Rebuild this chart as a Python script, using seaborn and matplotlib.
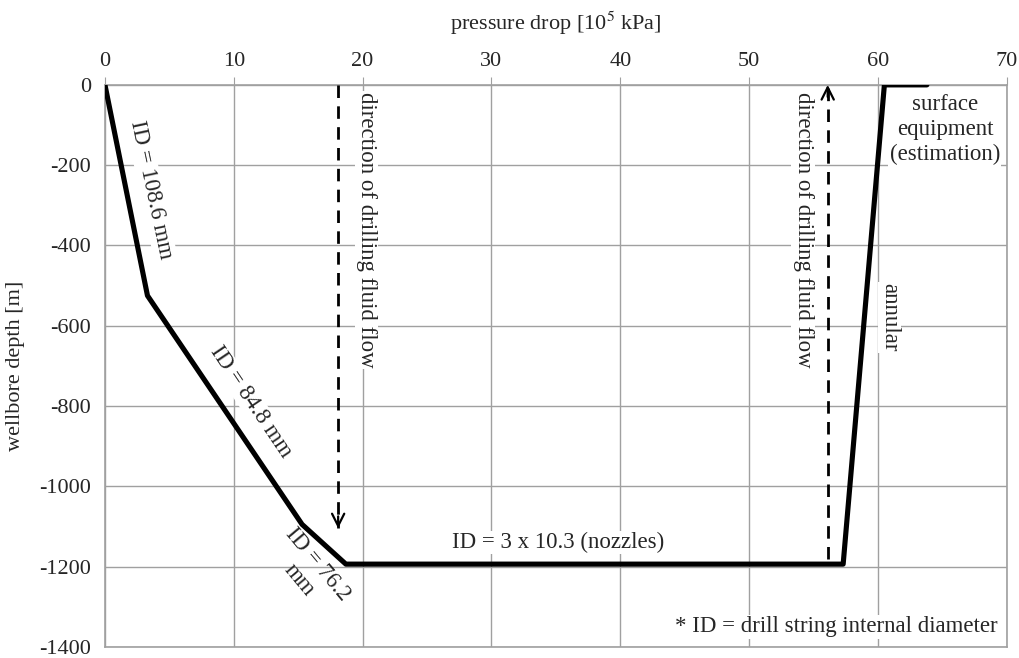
import numpy as np
import pandas as pd
import seaborn as sns
import matplotlib.pyplot as plt

sns.set_style("whitegrid")
plt.rcParams['font.family'] = ['Liberation Serif', 'DejaVu Serif']
plt.rcParams['axes.unicode_minus'] = False
plt.rcParams['mathtext.fontset'] = 'stix'

# data
pressure = [0, 3.3, 15.3, 18.7, 57.3, 60.5, 63.8]
depth = [0, -525, -1095, -1194, -1194, 0, 0]

flow_down_x = 18.1
flow_down_y = [0, -1105]
flow_up_x = 56.1
flow_up_y = [-1180, 0]

x_ticks = list(range(0, 71, 10))
y_ticks = list(range(0, -1401, -200))

GRID = "#a0a0a0"
FS = 16
AFS = 16.5

fig, ax = plt.subplots(figsize=(10.19, 6.58), dpi=100)
fig.subplots_adjust(left=0.103, right=0.988, top=0.871, bottom=0.017)

df = pd.DataFrame({"p": pressure, "d": depth})
sns.lineplot(data=df, x="p", y="d", sort=False, color="black", lw=3.7,
             ax=ax, zorder=4)

ax.set_xlim(0, 70)
ax.set_ylim(-1400, 0)
ax.set_xticks(x_ticks)
ax.set_yticks(y_ticks)
ax.xaxis.tick_top()
ax.xaxis.set_label_position("top")
ax.set_xlabel("pressure drop [10$^5$ kPa]", fontsize=FS, labelpad=16)
ax.set_ylabel("wellbore depth [m]", fontsize=FS, labelpad=10)
ax.tick_params(axis="both", labelsize=FS, length=6, color=GRID, pad=4)
ax.grid(True, color=GRID, lw=1)
for s in ax.spines.values():
    s.set_color(GRID)
    s.set_linewidth(1.2)


def flow_arrow(x, y0, y1):
    # dashed shaft, solid open head
    ax.plot([x, x], [y0, y1], color="black", lw=2, ls=(0, (4.5, 3)), zorder=5)
    step = 30 if y1 > y0 else -30
    ax.annotate("", xy=(x, y1), xytext=(x, y1 - step),
                arrowprops=dict(arrowstyle="->", lw=1.6, color="black",
                                mutation_scale=22, shrinkA=0, shrinkB=0),
                zorder=5)


flow_arrow(flow_down_x, flow_down_y[0], flow_down_y[1])
flow_arrow(flow_up_x, flow_up_y[0], flow_up_y[1])

wb = dict(facecolor="white", edgecolor="none", pad=1)
ax.text(20.3, -18, "direction of drilling fluid flow", rotation=270, ha="center",
        va="top", fontsize=AFS, bbox=wb, zorder=3)
ax.text(54.2, -18, "direction of drilling fluid flow", rotation=270, ha="center",
        va="top", fontsize=AFS, bbox=wb, zorder=3)
ax.text(60.9, -580, "annular", rotation=270, ha="center", va="center",
        fontsize=AFS, bbox=wb, zorder=3)
ax.text(65.2, -112, "surface\nequipment\n(estimation)", ha="center", va="center",
        fontsize=AFS, linespacing=1.25, bbox=wb, zorder=3)
ax.text(3.6, -262, "ID = 108.6 mm", rotation=-78, ha="center", va="center",
        fontsize=AFS, bbox=wb, zorder=3)
ax.text(11.3, -790, "ID = 84.8 mm", rotation=-56, ha="center", va="center",
        fontsize=AFS, bbox=wb, zorder=3)
ax.text(15.8, -1215, "ID = 76.2\nmm", rotation=-50, ha="center", va="center",
        fontsize=AFS, linespacing=1.2, zorder=3)
ax.text(35.2, -1140, "ID = 3 x 10.3 (nozzles)", ha="center", va="center",
        fontsize=AFS, bbox=wb, zorder=3)
ax.text(69.3, -1350, "* ID = drill string internal diameter", ha="right",
        va="center", fontsize=AFS, bbox=wb, zorder=3)

fig.savefig("out.png", dpi=100)
